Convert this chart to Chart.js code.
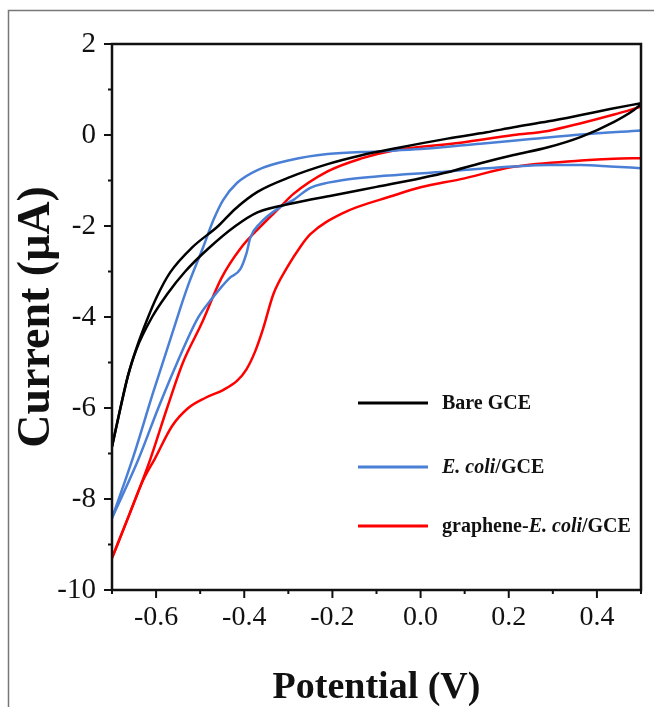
<!DOCTYPE html>
<html>
<head>
<meta charset="utf-8">
<script src="https://cdn.jsdelivr.net/npm/chart.js@4.4.0/dist/chart.umd.min.js"></script>
<style>
html, body { margin: 0; padding: 0; background: #fff; }
</style>
</head>
<body>
<canvas id="cv" width="654" height="707"></canvas>
<script>
// ЦВА петли: каждая кривая из двух ветвей (верхняя и нижняя), точки по возрастанию потенциала
const bareUpV  = [-0.700, -0.682, -0.664, -0.645, -0.620, -0.598, -0.568, -0.518, -0.459, -0.420, -0.370, -0.295, -0.211, -0.136, -0.050, 0.061, 0.150, 0.211, 0.290, 0.364, 0.430, 0.500];
const bareUpI  = [-6.85, -6.05, -5.30, -4.70, -4.05, -3.55, -3.02, -2.47, -2.00, -1.62, -1.25, -0.92, -0.64, -0.45, -0.28, -0.08, 0.06, 0.17, 0.30, 0.44, 0.57, 0.70];
const bareLowV = [-0.700, -0.682, -0.664, -0.645, -0.609, -0.575, -0.534, -0.482, -0.420, -0.370, -0.290, -0.200, -0.100, 0.000, 0.061, 0.136, 0.211, 0.289, 0.364, 0.439, 0.484, 0.500];
const bareLowI = [-6.85, -6.05, -5.30, -4.72, -4.00, -3.50, -3.00, -2.50, -2.00, -1.70, -1.50, -1.33, -1.14, -0.95, -0.82, -0.62, -0.44, -0.27, -0.04, 0.29, 0.55, 0.68];

const ecoliUpV  = [-0.700, -0.652, -0.607, -0.561, -0.539, -0.523, -0.493, -0.470, -0.448, -0.416, -0.370, -0.295, -0.211, -0.098, 0.000, 0.136, 0.250, 0.364, 0.500];
const ecoliUpI  = [-8.42, -7.08, -5.67, -4.29, -3.63, -3.19, -2.46, -1.87, -1.43, -1.05, -0.77, -0.55, -0.42, -0.36, -0.31, -0.19, -0.09, 0.01, 0.10];
const ecoliLowV = [-0.700, -0.641, -0.595, -0.552, -0.505, -0.472, -0.434, -0.409, -0.395, -0.386, -0.364, -0.318, -0.289, -0.250, -0.175, -0.100, 0.061, 0.136, 0.211, 0.290, 0.364, 0.430, 0.500];
const ecoliLowI = [-8.42, -7.15, -6.00, -5.00, -4.02, -3.58, -3.15, -2.95, -2.60, -2.25, -1.94, -1.58, -1.43, -1.16, -0.99, -0.91, -0.80, -0.74, -0.69, -0.66, -0.66, -0.69, -0.73];

const grapheneUpV  = [-0.700, -0.659, -0.614, -0.575, -0.539, -0.497, -0.452, -0.409, -0.364, -0.318, -0.289, -0.211, -0.136, -0.061, 0.091, 0.211, 0.289, 0.364, 0.439, 0.500];
const grapheneUpI  = [-9.30, -8.30, -7.15, -6.00, -5.00, -4.15, -3.15, -2.50, -2.02, -1.58, -1.30, -0.80, -0.52, -0.34, -0.17, 0.00, 0.09, 0.26, 0.45, 0.62];
const grapheneLowV = [-0.700, -0.659, -0.630, -0.602, -0.564, -0.527, -0.489, -0.447, -0.416, -0.395, -0.375, -0.357, -0.334, -0.302, -0.273, -0.250, -0.175, -0.061, 0.000, 0.091, 0.211, 0.364, 0.439, 0.500];
const grapheneLowI = [-9.30, -8.30, -7.60, -7.10, -6.40, -6.00, -5.78, -5.60, -5.40, -5.15, -4.75, -4.25, -3.50, -2.90, -2.46, -2.18, -1.71, -1.33, -1.15, -0.97, -0.70, -0.56, -0.52, -0.51];

const xTicks = [-0.6, -0.4, -0.2, 0.0, 0.2, 0.4];
const xMinor = [-0.7, -0.5, -0.3, -0.1, 0.1, 0.3, 0.5];
const yTicks = [2, 0, -2, -4, -6, -8, -10];
const yMinor = [1, -1, -3, -5, -7, -9];

const seriesColors = ['#000000', '#4a7fd6', '#ff0000'];
const legendParts = [
    [['Bare GCE', 'bold']],
    [['E. coli', 'italic bold'], ['/GCE', 'bold']],
    [['graphene-', 'bold'], ['E. coli', 'italic bold'], ['/GCE', 'bold']]
];

const SERIF = '"Liberation Serif", "Times New Roman", serif';

function toPoints(vs, is) {
    return vs.map((v, i) => ({ x: v, y: is[i] }));
}

function branch(vs, is, colorIndex) {
    return {
        data: toPoints(vs, is),
        borderColor: seriesColors[colorIndex],
        showLine: true,
        pointRadius: 0,
        borderWidth: 2.5,
        cubicInterpolationMode: 'monotone',
        fill: false
    };
}

function line(ctx, x1, y1, x2, y2) {
    ctx.beginPath();
    ctx.moveTo(x1, y1);
    ctx.lineTo(x2, y2);
    ctx.stroke();
}

// Рамка, засечки и легенда
const decorPlugin = {
    id: 'decor',
    afterDraw(chart) {
        const { ctx, chartArea: a, scales: { x, y } } = chart;
        ctx.save();

        ctx.strokeStyle = '#777';
        ctx.lineWidth = 1.5;
        ctx.beginPath();
        ctx.moveTo(8.5, 707);
        ctx.lineTo(8.5, 10.5);
        ctx.lineTo(654, 10.5);
        ctx.stroke();

        ctx.strokeStyle = '#111';
        ctx.lineWidth = 2.5;
        ctx.strokeRect(a.left, a.top, a.right - a.left, a.bottom - a.top);

        ctx.lineWidth = 2;
        xTicks.forEach(v => { const p = x.getPixelForValue(v); line(ctx, p, a.bottom, p, a.bottom + 8); });
        xMinor.forEach(v => { const p = x.getPixelForValue(v); line(ctx, p, a.bottom, p, a.bottom + 4); });
        yTicks.forEach(v => { const p = y.getPixelForValue(v); line(ctx, a.left - 8, p, a.left, p); });
        yMinor.forEach(v => { const p = y.getPixelForValue(v); line(ctx, a.left - 4, p, a.left, p); });

        const rows = [403, 467, 526];
        ctx.textBaseline = 'middle';
        ctx.fillStyle = '#111';
        legendParts.forEach((parts, i) => {
            ctx.strokeStyle = seriesColors[i];
            ctx.lineWidth = 3;
            line(ctx, 358, rows[i], 428, rows[i]);
            let tx = 442;
            parts.forEach(([txt, style]) => {
                ctx.font = style + ' 20px ' + SERIF;
                ctx.fillText(txt, tx, rows[i] + 1);
                tx += ctx.measureText(txt).width;
            });
        });
        ctx.restore();
    }
};

function fmtX(v) {
    return Math.abs(v) < 1e-9 ? '0.0' : v.toFixed(1);
}

new Chart(document.getElementById('cv'), {
    type: 'scatter',
    data: {
        datasets: [
            branch(bareUpV, bareUpI, 0),
            branch(bareLowV, bareLowI, 0),
            branch(ecoliUpV, ecoliUpI, 1),
            branch(ecoliLowV, ecoliLowI, 1),
            branch(grapheneUpV, grapheneUpI, 2),
            branch(grapheneLowV, grapheneLowI, 2)
        ]
    },
    options: {
        responsive: false,
        animation: false,
        devicePixelRatio: 1,
        layout: { padding: { left: 0, top: 44, right: 13, bottom: 0 } },
        plugins: {
            legend: { display: false },
            tooltip: { enabled: false }
        },
        scales: {
            x: {
                type: 'linear',
                min: -0.7,
                max: 0.5,
                grid: { display: false, drawTicks: false },
                border: { display: false },
                afterBuildTicks: s => { s.ticks = xTicks.map(v => ({ value: v })); },
                afterFit: s => { s.height = 117; },
                ticks: {
                    autoSkip: false,
                    maxRotation: 0,
                    padding: 11,
                    color: '#111',
                    font: { family: SERIF, size: 28 },
                    callback: v => fmtX(v)
                },
                title: {
                    display: true,
                    text: 'Potential (V)',
                    color: '#111',
                    font: { family: SERIF, size: 38, weight: 'bold', lineHeight: 1 },
                    padding: { top: 0, bottom: 0 }
                }
            },
            y: {
                type: 'linear',
                min: -10,
                max: 2,
                grid: { display: false, drawTicks: false },
                border: { display: false },
                afterBuildTicks: s => { s.ticks = yTicks.map(v => ({ value: v })); },
                afterFit: s => { s.width = 112; },
                ticks: {
                    autoSkip: false,
                    padding: 16,
                    color: '#111',
                    font: { family: SERIF, size: 29 },
                    callback: v => String(v)
                },
                title: {
                    display: true,
                    text: 'Current (μA)',
                    color: '#111',
                    font: { family: SERIF, size: 46, weight: 'bold', lineHeight: 1 },
                    padding: { top: 14, bottom: 0 }
                }
            }
        }
    },
    plugins: [decorPlugin]
});
</script>
</body>
</html>
